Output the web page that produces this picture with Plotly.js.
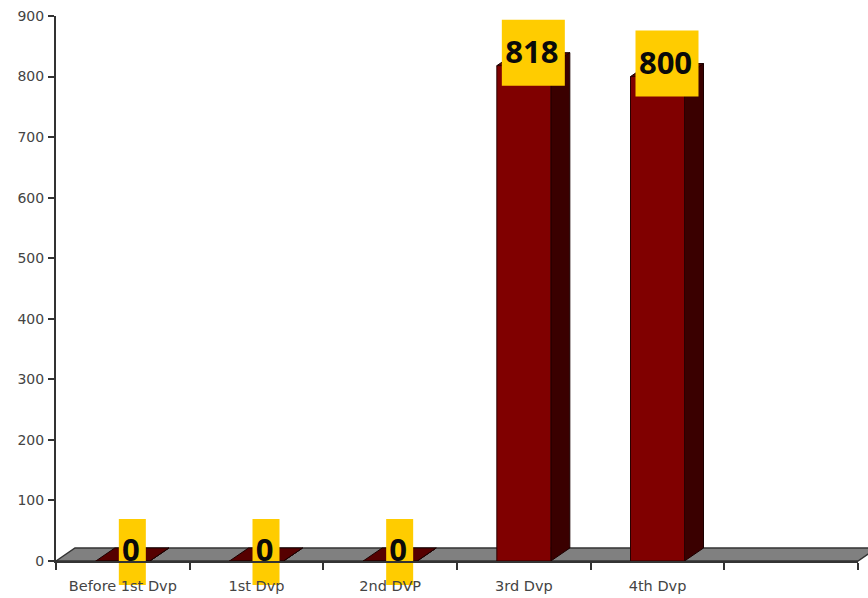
<!DOCTYPE html>
<html>
<head>
<meta charset="utf-8">
<script src="https://cdn.plot.ly/plotly-3.0.1.min.js"></script>
<style>html,body{margin:0;padding:0;background:#fff;overflow:hidden}</style>
</head>
<body>
<div id="chart" style="width:868px;height:598px"></div>
<script>
// Counts per stage
const categories = ['Before 1st Dvp', '1st Dvp', '2nd DVP', '3rd Dvp', '4th Dvp'];
const counts = [0, 0, 0, 818, 800];
const yTicks = [0, 100, 200, 300, 400, 500, 600, 700, 800, 900];

const W = 868, H = 598;
const plotL = 56, plotR = 858, plotT = 16, plotB = 561;
const slotCount = 6;
const yMax = 900;

// Pixels per axis unit
const unitX = (plotR - plotL) / slotCount;
const unitY = (plotB - plotT) / yMax;
const pxX = 1 / unitX;
const pxY = 1 / unitY;

// Pseudo-3D extrusion, in axis units
const barWidth = 0.404;
const depthX = 19 * pxX;
const depthY = 13 * pxY;

function polygons(list) {
  const xs = [], ys = [];
  list.forEach(poly => {
    poly.forEach(p => { xs.push(p[0]); ys.push(p[1]); });
    xs.push(poly[0][0]); ys.push(poly[0][1]);
    xs.push(null); ys.push(null);
  });
  return {x: xs, y: ys};
}
function face(list, fill, line, width) {
  return Object.assign(polygons(list), {
    type: 'scatter', mode: 'lines', fill: 'toself', fillcolor: fill,
    line: {color: line, width: width}, hoverinfo: 'skip', showlegend: false
  });
}

const floor = face([[[-0.5, 0], [-0.5 + depthX, depthY], [slotCount - 0.5 + depthX, depthY], [slotCount - 0.5, 0]]], '#808080', '#333333', 1.5);

const sides = face(counts.map((v, i) => {
  const r = i + barWidth / 2;
  return [[r, 0], [r + depthX, depthY], [r + depthX, v + depthY], [r, v]];
}), '#3a0000', '#1a0000', 1);

const tops = face(counts.map((v, i) => {
  const l = i - barWidth / 2, r = i + barWidth / 2;
  return [[l, v], [l + depthX, v + depthY], [r + depthX, v + depthY], [r, v]];
}), '#560000', '#1a0000', 1);

const fronts = face(counts.map((v, i) => {
  const l = i - barWidth / 2, r = i + barWidth / 2;
  return [[l, 0], [l, v], [r, v], [r, 0]];
}), '#800000', '#2a0000', 1);

// Value badges sit up and to the right of each bar top
const labelX = counts.map((v, i) => i + 9.5 * pxX);
const labelY = counts.map(v => v + (v > 0 ? 13 : 9) * pxY);

const badges = face(counts.map((v, i) => {
  const halfW = (18 * String(v).length + 9) / 2 * pxX;
  const halfH = 33 * pxY;
  return [[labelX[i] - halfW, labelY[i] - halfH], [labelX[i] - halfW, labelY[i] + halfH],
          [labelX[i] + halfW, labelY[i] + halfH], [labelX[i] + halfW, labelY[i] - halfH]];
}), '#ffcc00', '#ffcc00', 0);

const values = {
  type: 'scatter', mode: 'text',
  x: labelX.map(x => x - 1.5 * pxX),
  y: labelY.map((y, i) => y - (counts[i] > 0 ? 3 : 1.5) * pxY),
  text: counts.map(String),
  textposition: 'middle center',
  textfont: {family: '"Open Sans", sans-serif', size: 31, color: '#0a0a0a', weight: 700},
  hoverinfo: 'skip', cliponaxis: false, showlegend: false
};

// Keeps the axes subplot alive; it draws above the marks
const axisAnchor = {
  type: 'scatter', mode: 'none', x: [0], y: [0], xaxis: 'x2', yaxis: 'y2',
  hoverinfo: 'skip', showlegend: false
};

const axisStyle = {
  fixedrange: true, zeroline: false, showgrid: false, showline: true,
  linecolor: '#333333', linewidth: 2
};

const layout = {
  width: W, height: H,
  margin: {l: 0, r: 0, t: 0, b: 0, pad: 0},
  paper_bgcolor: '#ffffff', plot_bgcolor: 'rgba(0,0,0,0)',
  showlegend: false,
  font: {family: '"DejaVu Sans", sans-serif', color: '#444444'},
  // Full-page subplot for the marks, on the same scale as the axes
  xaxis: {
    domain: [0, 1], visible: false, fixedrange: true,
    range: [-0.5 - plotL * pxX, slotCount - 0.5 + (W - plotR) * pxX]
  },
  yaxis: {
    domain: [0, 1], visible: false, fixedrange: true,
    range: [-(H - plotB) * pxY, yMax + plotT * pxY]
  },
  xaxis2: Object.assign({}, axisStyle, {
    domain: [plotL / W, plotR / W], anchor: 'y2',
    range: [-0.5, slotCount - 0.5],
    tickmode: 'array', tickvals: categories.map((c, i) => i), ticktext: categories,
    ticks: '', tickfont: {size: 14.5, color: '#444444'}, ticklabelstandoff: 11,
    minor: {tickmode: 'linear', tick0: -0.5, dtick: 1, ticks: 'outside', ticklen: 7, tickwidth: 2, tickcolor: '#333333', showgrid: false}
  }),
  yaxis2: Object.assign({}, axisStyle, {
    domain: [(H - plotB) / H, (H - plotT) / H], anchor: 'x2',
    range: [0, yMax],
    tickmode: 'array', tickvals: yTicks, ticks: 'outside', ticklen: 6, tickwidth: 2, tickcolor: '#333333',
    tickfont: {size: 14, color: '#444444'}, ticklabelstandoff: 1
  })
};

Plotly.newPlot('chart', [floor, sides, tops, fronts, badges, values, axisAnchor], layout, {displayModeBar: false, staticPlot: true});
</script>
</body>
</html>
